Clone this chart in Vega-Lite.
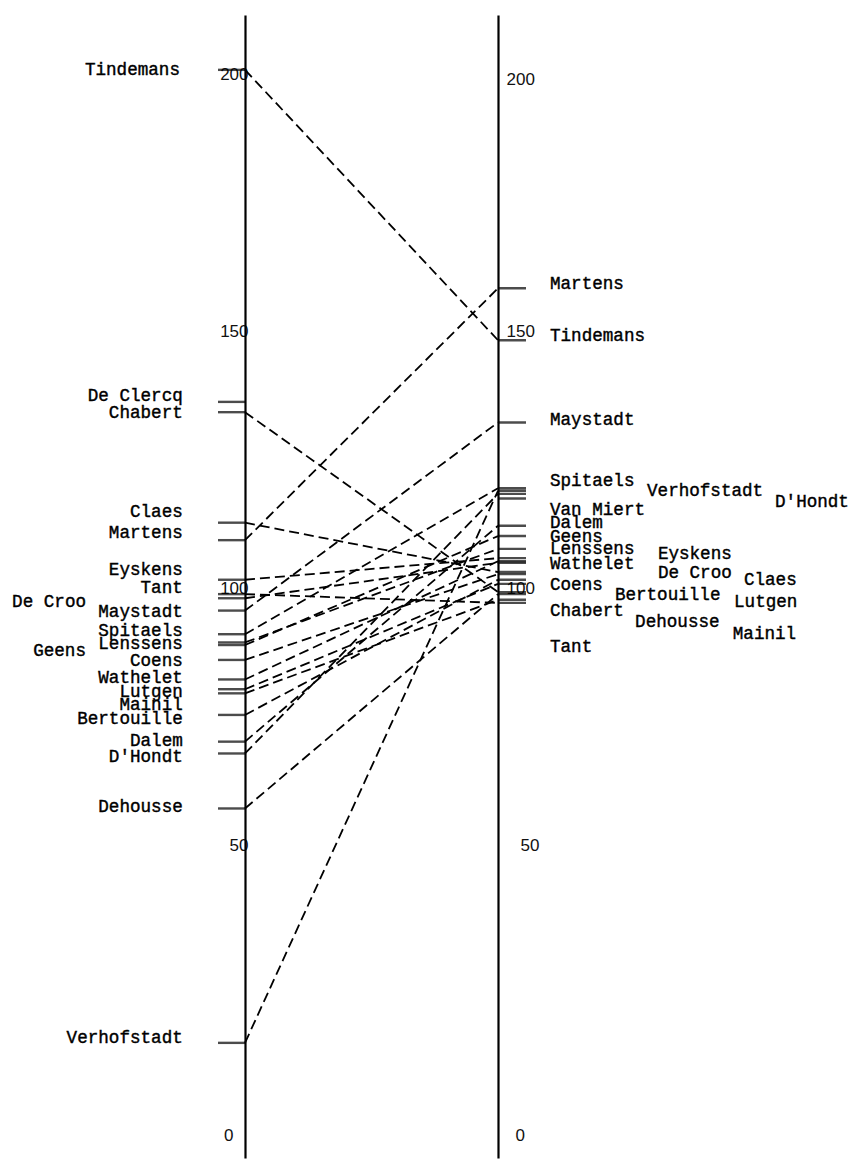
{
  "$schema": "https://vega.github.io/schema/vega-lite/v6.json",
  "width": 853,
  "height": 1143,
  "autosize": {"type": "none"},
  "padding": {"left": 0, "top": 15, "right": 0, "bottom": 1},
  "background": "white",
  "config": {"view": {"stroke": null}},
  "data": {
    "values": [
      {"name": "Tindemans", "round": 1, "score": 201.0, "label_round": 0.743, "label_score": 201.0},
      {"name": "De Clercq", "round": 1, "score": 136.4, "label_round": 0.754, "label_score": 137.5},
      {"name": "Chabert", "round": 1, "score": 134.4, "label_round": 0.754, "label_score": 134.2},
      {"name": "Claes", "round": 1, "score": 112.9, "label_round": 0.754, "label_score": 115.0},
      {"name": "Martens", "round": 1, "score": 109.5, "label_round": 0.754, "label_score": 110.8},
      {"name": "Eyskens", "round": 1, "score": 101.8, "label_round": 0.754, "label_score": 103.6},
      {"name": "Tant", "round": 1, "score": 99.0, "label_round": 0.754, "label_score": 100.1},
      {"name": "De Croo", "round": 1, "score": 98.2, "label_round": 0.3715, "label_score": 97.5},
      {"name": "Maystadt", "round": 1, "score": 95.8, "label_round": 0.754, "label_score": 95.6},
      {"name": "Spitaels", "round": 1, "score": 91.2, "label_round": 0.754, "label_score": 91.8},
      {"name": "Lenssens", "round": 1, "score": 89.6, "label_round": 0.754, "label_score": 89.3},
      {"name": "Geens", "round": 1, "score": 89.1, "label_round": 0.3715, "label_score": 87.9},
      {"name": "Coens", "round": 1, "score": 86.2, "label_round": 0.754, "label_score": 86.0},
      {"name": "Wathelet", "round": 1, "score": 82.4, "label_round": 0.754, "label_score": 82.6},
      {"name": "Lutgen", "round": 1, "score": 80.5, "label_round": 0.754, "label_score": 80.0},
      {"name": "Mainil", "round": 1, "score": 79.7, "label_round": 0.754, "label_score": 77.4},
      {"name": "Bertouille", "round": 1, "score": 75.5, "label_round": 0.754, "label_score": 74.8},
      {"name": "Dalem", "round": 1, "score": 70.3, "label_round": 0.754, "label_score": 70.5},
      {"name": "D'Hondt", "round": 1, "score": 68.0, "label_round": 0.754, "label_score": 67.3},
      {"name": "Dehousse", "round": 1, "score": 57.3, "label_round": 0.754, "label_score": 57.6},
      {"name": "Verhofstadt", "round": 1, "score": 11.7, "label_round": 0.754, "label_score": 12.7},
      {"name": "Martens", "round": 2, "score": 158.5, "label_round": 2.2055, "label_score": 159.3},
      {"name": "Tindemans", "round": 2, "score": 148.4, "label_round": 2.2055, "label_score": 149.2},
      {"name": "Maystadt", "round": 2, "score": 132.4, "label_round": 2.2055, "label_score": 132.9},
      {"name": "Spitaels", "round": 2, "score": 119.6, "label_round": 2.2055, "label_score": 121.1},
      {"name": "Verhofstadt", "round": 2, "score": 119.1, "label_round": 2.589, "label_score": 119.1},
      {"name": "D'Hondt", "round": 2, "score": 118.5, "label_round": 3.095, "label_score": 117.0},
      {"name": "Van Miert", "round": 2, "score": 117.6, "label_round": 2.2055, "label_score": 115.4},
      {"name": "Dalem", "round": 2, "score": 112.3, "label_round": 2.2055, "label_score": 112.8},
      {"name": "Geens", "round": 2, "score": 110.3, "label_round": 2.2055, "label_score": 110.1},
      {"name": "Lenssens", "round": 2, "score": 107.8, "label_round": 2.2055, "label_score": 107.7},
      {"name": "Eyskens", "round": 2, "score": 106.0, "label_round": 2.632, "label_score": 106.8},
      {"name": "Wathelet", "round": 2, "score": 105.4, "label_round": 2.2055, "label_score": 104.9},
      {"name": "De Croo", "round": 2, "score": 105.1, "label_round": 2.632, "label_score": 103.2},
      {"name": "Claes", "round": 2, "score": 103.3, "label_round": 2.972, "label_score": 101.8},
      {"name": "Coens", "round": 2, "score": 102.9, "label_round": 2.2055, "label_score": 100.8},
      {"name": "Bertouille", "round": 2, "score": 101.8, "label_round": 2.462, "label_score": 98.8},
      {"name": "Lutgen", "round": 2, "score": 101.0, "label_round": 2.933, "label_score": 97.4},
      {"name": "Chabert", "round": 2, "score": 99.4, "label_round": 2.2055, "label_score": 95.8},
      {"name": "Dehousse", "round": 2, "score": 99.0, "label_round": 2.542, "label_score": 93.6},
      {"name": "Mainil", "round": 2, "score": 97.9, "label_round": 2.928, "label_score": 91.2},
      {"name": "Tant", "round": 2, "score": 97.3, "label_round": 2.2055, "label_score": 88.7}
    ]
  },
  "layer": [
    {
      "mark": {"type": "line", "strokeDash": [10, 5], "strokeWidth": 1.8, "color": "#000"},
      "encoding": {
        "x": {"field": "round", "type": "quantitative", "scale": {"domain": [0.0316, 3.4032], "nice": false, "zero": false}, "axis": null},
        "y": {
          "field": "score", "type": "quantitative",
          "scale": {"domain": [-10.70, 211.67], "nice": false, "zero": false},
          "axis": {
            "orient": "left", "offset": -245, "values": [0, 50, 100, 150, 200],
            "ticks": false, "grid": false, "domainColor": "#000", "domainWidth": 2.2,
            "labelFont": "Liberation Sans", "labelFontSize": 17, "labelColor": "#111",
            "labelFlush": false, "labelOverlap": false, "labelBound": false, "title": null,
            "labelPadding": {"condition": {"test": "datum.value === 0", "value": 12}, "value": -3},
            "labelOffset": {"condition": {"test": "datum.value === 0", "value": 32}, "value": 0}
          }
        },
        "detail": {"field": "name", "type": "nominal"}
      }
    },
    {
      "transform": [{"filter": "datum.round === 1"}],
      "mark": {"type": "tick", "orient": "horizontal", "xOffset": -13.5, "size": 27, "thickness": 2.4, "color": "#000"},
      "encoding": {
        "x": {"field": "round", "type": "quantitative"},
        "y": {
          "field": "score", "type": "quantitative",
          "axis": {
            "orient": "right", "offset": -355, "values": [0, 50, 100, 150, 200],
            "ticks": false, "grid": false, "domainColor": "#000", "domainWidth": 2.2,
            "labelFont": "Liberation Sans", "labelFontSize": 17, "labelColor": "#111",
            "labelFlush": false, "labelOverlap": false, "labelBound": false, "title": null,
            "labelPadding": {"condition": [{"test": "datum.value === 0", "value": 17}, {"test": "datum.value === 50", "value": 22}], "value": 8},
            "labelOffset": {"condition": [{"test": "datum.value === 0", "value": 32}, {"test": "datum.value === 200", "value": 5}], "value": 0}
          }
        }
      }
    },
    {
      "transform": [{"filter": "datum.round === 2"}],
      "mark": {"type": "tick", "orient": "horizontal", "xOffset": 14, "size": 28, "thickness": 2.4, "color": "#000"},
      "encoding": {
        "x": {"field": "round", "type": "quantitative"},
        "y": {"field": "score", "type": "quantitative", "axis": null}
      }
    },
    {
      "transform": [{"filter": "datum.round === 1"}],
      "mark": {"type": "text", "align": "right", "baseline": "middle", "font": "Liberation Mono", "fontSize": 17.6, "color": "#000", "stroke": "#000", "strokeWidth": 0.4},
      "encoding": {
        "x": {"field": "label_round", "type": "quantitative"},
        "y": {"field": "label_score", "type": "quantitative", "axis": null},
        "text": {"field": "name"}
      }
    },
    {
      "transform": [{"filter": "datum.round === 2"}],
      "mark": {"type": "text", "align": "left", "baseline": "middle", "font": "Liberation Mono", "fontSize": 17.6, "color": "#000", "stroke": "#000", "strokeWidth": 0.4},
      "encoding": {
        "x": {"field": "label_round", "type": "quantitative"},
        "y": {"field": "label_score", "type": "quantitative", "axis": null},
        "text": {"field": "name"}
      }
    }
  ],
  "resolve": {"axis": {"y": "independent"}}
}
